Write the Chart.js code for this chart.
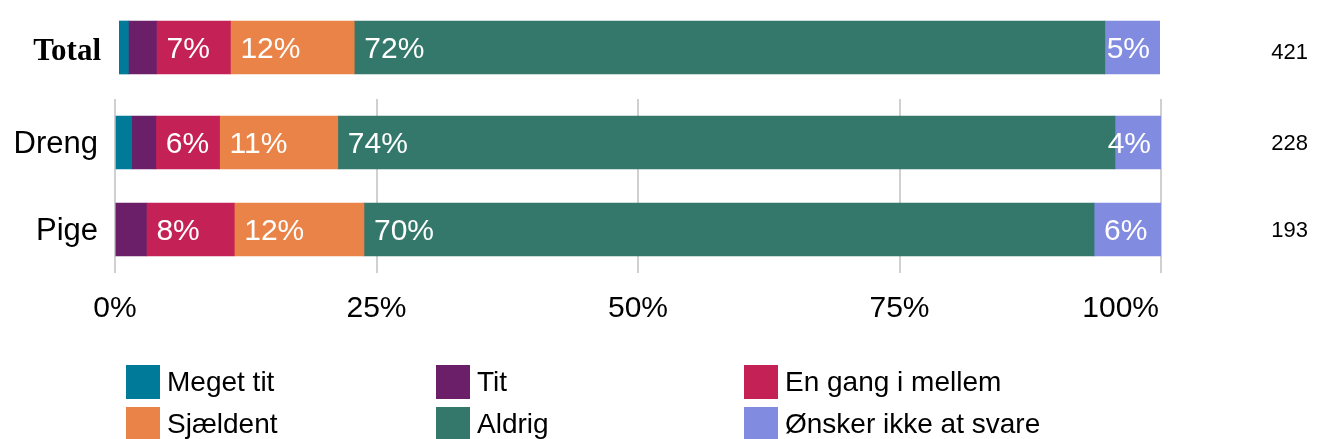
<!DOCTYPE html>
<html>
<head>
<meta charset="utf-8">
<script src="https://cdn.jsdelivr.net/npm/chart.js@4.4.1/dist/chart.umd.min.js"></script>
<style>
  body { margin: 0; background: #fff; font-family: "Liberation Sans", Arial, sans-serif; }
  #wrap { position: relative; width: 1317px; height: 439px; overflow: hidden; }
  #box1 { position: absolute; left: 0; top: 0; width: 1317px; height: 95px; }
  #box2 { position: absolute; left: 0; top: 95px; width: 1317px; height: 245px; }
  #legend { position: absolute; left: 0; top: 0; width: 1317px; height: 439px; pointer-events: none; }
  .item { position: absolute; display: flex; align-items: center; height: 34px; font-size: 28px; color: #000; white-space: nowrap; }
  .item span.sw { display: inline-block; width: 34px; height: 34px; margin-right: 7px; }
</style>
</head>
<body>
<div id="wrap">
  <div id="box1"><canvas id="chartTotal"></canvas></div>
  <div id="box2"><canvas id="chartGroups"></canvas></div>
  <div id="legend"></div>
</div>
<script>
// Data (order: Total, Dreng, Pige)
var rows = ['Total', 'Dreng', 'Pige'];
var counts = ['421', '228', '193'];
var seriesNames = ['Meget tit', 'Tit', 'En gang i mellem', 'Sjældent', 'Aldrig', 'Ønsker ikke at svare'];
var megetTit = [0.9, 1.6, 0.0];
var tit = [2.7, 2.3, 3.0];
var enGang = [7.1, 6.1, 8.4];
var sjaeldent = [11.9, 11.3, 12.4];
var aldrig = [72.1, 74.3, 69.8];
var oenskerIkke = [5.3, 4.4, 6.4];
var xTicks = [0, 25, 50, 75, 100];

var colors = ['#007A99', '#6A1F68', '#C42157', '#EA8347', '#33786B', '#818BE0'];
var allSeries = [megetTit, tit, enGang, sjaeldent, aldrig, oenskerIkke];

function makeDatasets(from, to) {
    return allSeries.map(function (s, i) {
        return {
            label: seriesNames[i],
            data: s.slice(from, to),
            backgroundColor: colors[i],
            borderWidth: 0,
            barThickness: 53
        };
    });
}

// fixed axis width, and no extra top/bottom padding from the labels
function fixWidth(w) {
    return function (s) {
        s.width = w;
        s.paddingTop = 0;
        s.paddingBottom = 0;
    };
}

// percentage labels inside the bars
var barLabels = {
    id: 'barLabels',
    afterDatasetsDraw: function (chart) {
        var ctx = chart.ctx;
        ctx.save();
        ctx.font = '30px "Liberation Sans", Arial, sans-serif';
        ctx.fillStyle = '#fff';
        ctx.textBaseline = 'middle';
        ctx.textAlign = 'left';
        chart.data.datasets.forEach(function (ds, di) {
            var meta = chart.getDatasetMeta(di);
            meta.data.forEach(function (el, i) {
                var v = ds.data[i];
                if (v < 4) return;
                var txt = Math.round(v) + '%';
                var w = ctx.measureText(txt).width;
                var start = Math.min(el.x, el.base);
                var end = Math.max(el.x, el.base);
                var x = Math.min(start + 10, end - 10 - w);
                ctx.fillText(txt, x, el.y + 2);
            });
        });
        ctx.restore();
    }
};

// x tick labels below the group chart
var xLabels = {
    id: 'xLabels',
    afterDraw: function (chart) {
        var ctx = chart.ctx;
        var sc = chart.scales.x;
        ctx.save();
        ctx.font = '30px "Liberation Sans", Arial, sans-serif';
        ctx.fillStyle = '#000';
        ctx.textBaseline = 'middle';
        xTicks.forEach(function (v, i) {
            var px = sc.getPixelForValue(v);
            if (i === xTicks.length - 1) {
                ctx.textAlign = 'right';
                ctx.fillText(v + '%', px - 2, 214);
            } else {
                ctx.textAlign = 'center';
                ctx.fillText(v + '%', px, 214);
            }
        });
        ctx.restore();
    }
};

// Total chart
new Chart(document.getElementById('chartTotal'), {
    type: 'bar',
    data: { labels: rows.slice(0, 1), datasets: makeDatasets(0, 1) },
    options: {
        indexAxis: 'y',
        responsive: true,
        maintainAspectRatio: false,
        animation: false,
        layout: { padding: { top: 0, bottom: 0, left: 0, right: 9 } },
        plugins: { legend: { display: false }, tooltip: { enabled: false } },
        scales: {
            x: { stacked: true, min: 0, max: 100, display: false },
            y: {
                stacked: true,
                grid: { display: false, drawTicks: false },
                border: { display: false },
                ticks: { color: '#000', padding: 18, labelOffset: 4, font: { family: '"Liberation Serif", "Times New Roman", serif', size: 31, weight: 'bold' } },
                afterFit: fixWidth(119)
            },
            y2: {
                type: 'category',
                labels: counts.slice(0, 1),
                position: 'right',
                grid: { display: false, drawTicks: false },
                border: { display: false },
                ticks: { color: '#000', padding: 0, crossAlign: 'far', labelOffset: 5, font: { family: '"Liberation Sans", Arial, sans-serif', size: 22 } },
                afterFit: fixWidth(148)
            }
        }
    },
    plugins: [barLabels]
});

// Dreng / Pige chart
new Chart(document.getElementById('chartGroups'), {
    type: 'bar',
    data: { labels: rows.slice(1), datasets: makeDatasets(1, 3) },
    options: {
        indexAxis: 'y',
        responsive: true,
        maintainAspectRatio: false,
        animation: false,
        layout: { padding: { top: 4, bottom: 0, left: 0, right: 9 } },
        plugins: { legend: { display: false }, tooltip: { enabled: false } },
        scales: {
            x: {
                stacked: true, min: 0, max: 100,
                grid: { color: '#d0d0d0', lineWidth: 2, drawTicks: false },
                border: { display: false },
                ticks: { stepSize: 25, display: false },
                afterFit: function (s) { s.height = 67; s.paddingLeft = 0; s.paddingRight = 0; }
            },
            y: {
                stacked: true,
                grid: { display: false, drawTicks: false },
                border: { display: false },
                ticks: { color: '#000', padding: 17, labelOffset: 2, font: { family: '"Liberation Sans", Arial, sans-serif', size: 31 } },
                afterFit: fixWidth(115)
            },
            y2: {
                type: 'category',
                labels: counts.slice(1),
                position: 'right',
                grid: { display: false, drawTicks: false },
                border: { display: false },
                ticks: { color: '#000', padding: 0, crossAlign: 'far', labelOffset: 1, font: { family: '"Liberation Sans", Arial, sans-serif', size: 22 } },
                afterFit: fixWidth(147)
            }
        }
    },
    plugins: [barLabels, xLabels]
});

// Legend (3 columns, 2 rows)
var legend = document.getElementById('legend');
var colX = [126, 436, 744];
var rowY = [365, 407];
seriesNames.forEach(function (name, i) {
    var d = document.createElement('div');
    d.className = 'item';
    d.style.left = colX[i % 3] + 'px';
    d.style.top = rowY[Math.floor(i / 3)] + 'px';
    var sw = document.createElement('span');
    sw.className = 'sw';
    sw.style.background = colors[i];
    d.appendChild(sw);
    d.appendChild(document.createTextNode(name));
    legend.appendChild(d);
});
</script>
</body>
</html>
